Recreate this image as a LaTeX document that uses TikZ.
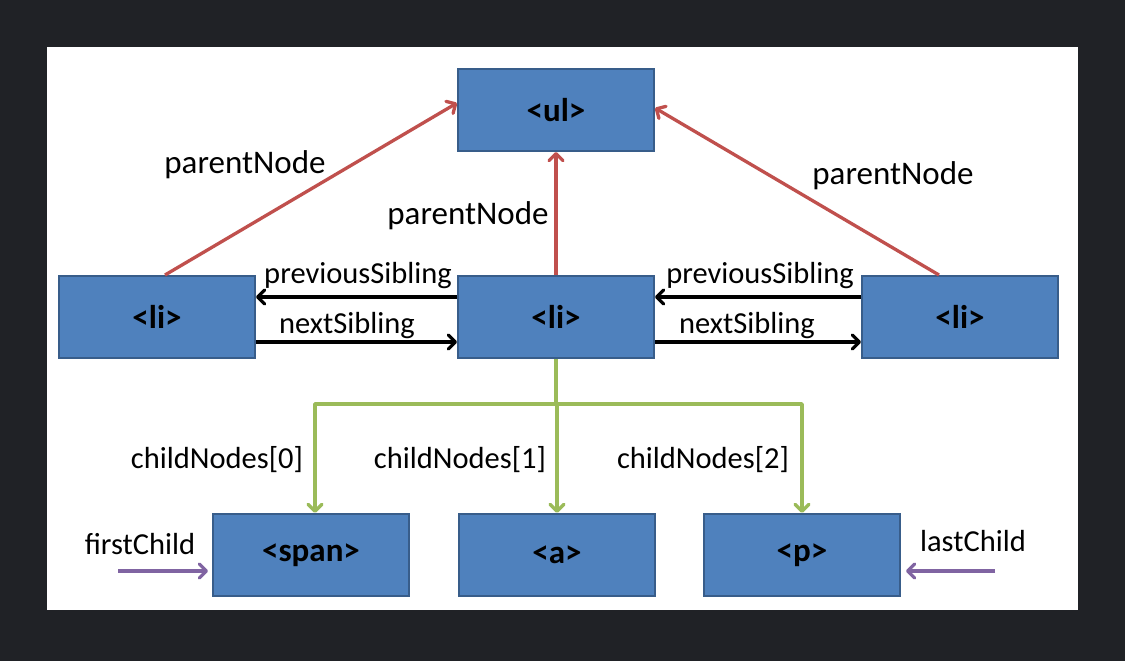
\documentclass[tikz,border=0pt]{standalone}
\usepackage{fontspec}
\setmainfont{Carlito}
\usetikzlibrary{arrows.meta}
\definecolor{bgdark}{HTML}{202226}
\definecolor{boxfill}{HTML}{4F81BD}
\definecolor{boxborder}{HTML}{385D8A}
\definecolor{redarr}{HTML}{C0504D}
\definecolor{grnarr}{HTML}{9BBB59}
\definecolor{prparr}{HTML}{8064A2}
\begin{document}
\begin{tikzpicture}[x=1pt,y=-1pt,
  box/.style={draw=boxborder, line width=2pt, fill=boxfill, minimum width=196pt, minimum height=82pt, inner sep=0pt, font=\fontsize{33}{38}\selectfont\bfseries},
  lbl/.style={font=\fontsize{30.5}{36}\selectfont, anchor=base, inner sep=0pt},
  biglbl/.style={lbl, font=\fontsize{33}{38}\selectfont},
  tipped/.style={-{Straight Barb[length=7pt,width=14pt,round]}},
  redline/.style={tipped, draw=redarr, line width=3.3pt},
  blkline/.style={tipped, draw=black, line width=3.3pt},
  grnline/.style={draw=grnarr, line width=3.5pt, line join=round},
  prpline/.style={tipped, draw=prparr, line width=3.3pt}]
\fill[bgdark] (0,0) rectangle (1125,661);
\fill[white] (47,47) rectangle (1078,610);
% boxes
\node[box] (ul) at (556,110) {<ul>};
\node[box] (lil) at (157,317) {<li>};
\node[box] (lim) at (556,317) {<li>};
\node[box] (lir) at (960,317) {<li>};
\node[box] (span) at (311,555) {<span>};
\node[box] (a) at (557,555) {<a>};
\node[box] (p) at (802,555) {<p>};
% parent arrows
\draw[redline] ([xshift=8pt]lil.north) -- ([yshift=7pt]ul.west);
\draw[redline] (lim.north) -- (ul.south);
\draw[redline] ([xshift=-21pt]lir.north) -- ([yshift=2pt]ul.east);
% sibling arrows
\draw[blkline] ([yshift=20pt]lim.west) -- ([yshift=20pt]lil.east);
\draw[blkline] ([yshift=-25pt]lil.east) -- ([yshift=-25pt]lim.west);
\draw[blkline] ([yshift=20pt]lir.west) -- ([yshift=20pt]lim.east);
\draw[blkline] ([yshift=-25pt]lim.east) -- ([yshift=-25pt]lir.west);
% child arrows
\coordinate (bus) at (556,404);
\draw[grnline] (lim.south) -- (bus);
\draw[grnline, tipped] (bus) -| ([xshift=4pt]span.north);
\draw[grnline, tipped] (bus) -| (a.north);
\draw[grnline, tipped] (bus) -| (p.north);
% first / last child
\coordinate (fcs) at (118,571);
\coordinate (lcs) at (995,571);
\draw[prpline] (fcs) -- ([yshift=-16pt,xshift=-4pt]span.west);
\draw[prpline] (lcs) -- ([yshift=-16pt,xshift=5pt]p.east);
% labels
\node[biglbl] (pnl) at (245,173) {parentNode};
\node[biglbl] (pnm) at (468,224) {parentNode};
\node[biglbl] (pnr) at (893,184) {parentNode};
\node[lbl] (psl) at (358,283) {previousSibling};
\node[lbl] (psr) at (760,283) {previousSibling};
\node[lbl] (nsl) at (347,333) {nextSibling};
\node[lbl] (nsr) at (747,333) {nextSibling};
\node[lbl] (cn0) at (217,468) {childNodes[0]};
\node[lbl] (cn1) at (460,468) {childNodes[1]};
\node[lbl] (cn2) at (703,468) {childNodes[2]};
\node[lbl] (fc) at (140,554) {firstChild};
\node[lbl] (lc) at (973,551) {lastChild};
\end{tikzpicture}
\end{document}
